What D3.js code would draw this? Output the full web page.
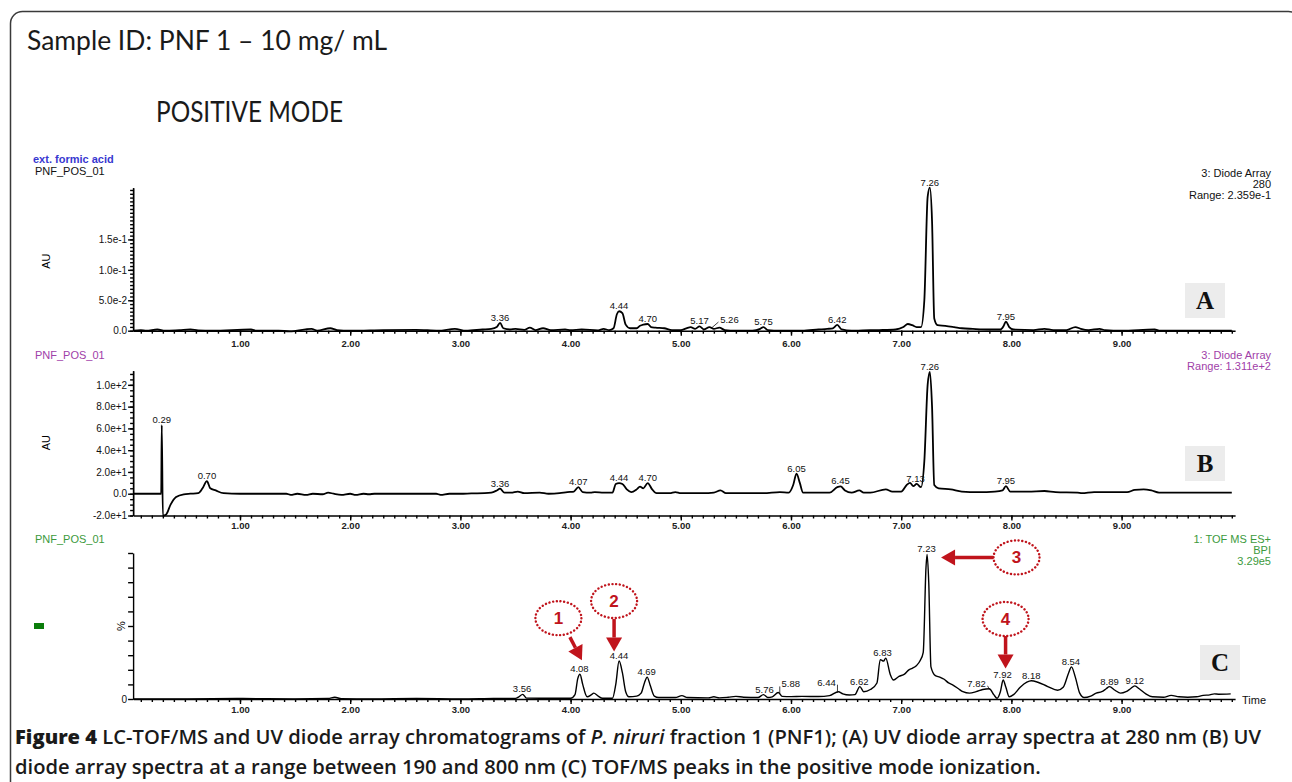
<!DOCTYPE html>
<html>
<head>
<meta charset="utf-8">
<title>PNF1 LC-TOF/MS chromatograms - D3.js</title>
<script src="https://d3js.org/d3.v7.min.js"></script>
<style>
  body { margin: 0; background: #fff; }
  svg { display: block; }
  .axis path, .axis line { stroke: #000; stroke-width: 1.4; fill: none; }
  .axis text { font-family: "Liberation Sans", Arial, sans-serif; font-size: 10px; fill: #111; }
  .xlab text { font-weight: bold; font-size: 9.5px; fill: #222; }
  .small { font-family: "Liberation Sans", Arial, sans-serif; font-size: 11px; }
  .peak { font-family: "Liberation Sans", Arial, sans-serif; font-size: 9.5px; fill: #111; text-anchor: middle; }
  .trace { fill: none; stroke: #000; stroke-linejoin: round; }
</style>
</head>
<body>
<div id="chart"></div>
<script>
// retention time (min), response
const traceA = [
  [0.03,0],[0.10,0.001],[0.15,0],[0.25,0.002],[0.32,0],[0.45,0.001],[0.55,0.002],[0.62,0.0005],[0.75,0],
  [1.10,0.002],[1.15,0],[1.35,0],[1.45,-0.001],[1.65,0.003],[1.70,0],[1.82,0.004],[1.88,0.001],[2.0,0],
  [2.3,0.001],[2.6,0.0015],[2.8,0],[2.95,0.003],[3.05,0],[3.2,0.002],[3.28,0.003],[3.33,0.006],[3.36,0.013],
  [3.39,0.004],[3.45,0.002],[3.50,0.003],[3.58,0.0015],[3.63,0.005],[3.68,0.001],[3.75,0.004],[3.82,0.001],
  [3.95,0.002],[4.0,0.001],[4.1,0.002],[4.25,0.0005],[4.30,0.003],[4.35,0.001],[4.39,0.004],[4.42,0.027],
  [4.44,0.032],[4.47,0.029],[4.50,0.010],[4.54,0.004],[4.60,0.004],[4.63,0.008],[4.66,0.010],[4.70,0.011],
  [4.73,0.006],[4.77,0.005],[4.85,0.004],[4.92,0.001],[5.0,0.001],[5.05,0.004],[5.09,0.006],[5.13,0.003],
  [5.17,0.007],[5.21,0.002],[5.26,0.006],[5.30,0.003],[5.35,0.005],[5.40,0.001],[5.5,0],[5.65,0],[5.72,0.003],
  [5.75,0.006],[5.79,0.001],[5.9,0],[6.1,0],[6.25,0.002],[6.33,0.003],[6.38,0.004],[6.42,0.0095],[6.46,0.002],
  [6.55,0],[6.65,0.0005],[6.8,0.001],[6.95,0.002],[7.02,0.006],[7.06,0.011],[7.10,0.009],[7.14,0.006],
  [7.18,0.006],[7.21,0.05],[7.24,0.22],[7.26,0.235],[7.28,0.18],[7.30,0.02],[7.33,0.009],[7.40,0.008],
  [7.48,0.006],[7.55,0.004],[7.65,0.003],[7.80,0.002],[7.90,0.002],[7.93,0.008],[7.95,0.015],[7.98,0.006],
  [8.02,0.002],[8.2,0.001],[8.3,0.003],[8.38,0.001],[8.5,0.001],[8.58,0.006],[8.63,0.003],[8.7,0.001],
  [8.8,0.003],[8.85,0.001],[9.0,0],[9.3,0.002],[9.35,0],[10.0,0]
];
const traceB = [
  [0.03,0],[0.285,0],[0.29,63],[0.30,-20],[0.33,-19],[0.37,-10],[0.42,-3],[0.49,-0.5],[0.55,0],[0.62,0.5],
  [0.66,5],[0.70,11.5],[0.73,5],[0.78,3],[0.85,0.5],[1.0,0],[1.42,0],[1.46,-1],[1.52,0],[1.6,-1],[1.66,0],
  [1.75,-0.5],[1.80,1],[1.85,0],[1.92,-1],[2.0,0],[2.05,-1],[2.12,0],[2.17,-0.5],[2.22,0],[2.78,0],[2.82,-1],
  [2.9,0],[3.0,0],[3.1,0.3],[3.22,0.5],[3.28,1],[3.33,3],[3.36,4.6],[3.40,1],[3.46,1],[3.52,2],[3.58,0.5],
  [3.72,1],[3.8,0],[3.9,0.5],[3.97,1.5],[4.03,2],[4.07,6.1],[4.11,1.5],[4.18,1],[4.22,1.5],[4.3,1],[4.38,1],
  [4.41,9],[4.44,9.8],[4.47,9],[4.51,4],[4.55,1.5],[4.60,4],[4.63,6.5],[4.66,5],[4.70,9.8],[4.74,4],[4.78,0.5],
  [4.9,0.5],[4.95,1.5],[5.0,0.5],[5.2,0.5],[5.3,1],[5.36,3],[5.41,0.5],[5.75,0.5],[5.9,1.5],[5.98,1],[6.02,8],
  [6.05,18.5],[6.08,10],[6.11,1],[6.35,1],[6.42,6],[6.45,6.7],[6.49,3],[6.55,1],[6.62,3],[6.66,1],[6.72,1],
  [6.86,4],[6.92,2],[7.0,2],[7.05,8],[7.08,10],[7.11,7],[7.14,9],[7.18,6],[7.21,30],[7.24,100],[7.26,112],
  [7.28,80],[7.30,8],[7.34,5],[7.45,4],[7.55,2],[7.7,1.5],[7.85,2],[7.92,3],[7.95,7],[7.99,2],[8.15,2],
  [8.3,2.5],[8.4,1.5],[8.6,1],[8.64,0.5],[8.75,1.5],[9.05,1.5],[9.12,3.5],[9.2,4],[9.27,3],[9.34,1],[10.0,1]
];
const traceC = [
  [0.03,0],[0.5,0],[1.0,0.3],[1.5,0],[1.80,0.3],[1.86,1.2],[1.92,0.2],[2.2,0],[2.6,0.3],[3.0,0],[3.3,0.3],
  [3.5,0.4],[3.53,1.5],[3.565,3.2],[3.60,0.6],[3.8,0.5],[4.0,0.5],[4.04,3],[4.065,14],[4.085,17],[4.11,10],
  [4.15,1.5],[4.19,3],[4.21,4],[4.25,2],[4.29,0.5],[4.38,0.5],[4.41,10],[4.44,26],[4.47,18],[4.50,5],
  [4.53,1.5],[4.6,2],[4.64,4],[4.67,11],[4.695,15],[4.72,10],[4.76,2],[4.80,1],[4.95,1],[5.01,2.3],[5.06,1],
  [5.25,0.8],[5.3,1.5],[5.35,0.8],[5.43,1.2],[5.5,1.8],[5.57,1.2],[5.7,1],[5.75,3],[5.79,1],[5.83,1.5],
  [5.885,4.5],[5.92,1.8],[6.0,1.6],[6.1,1.8],[6.25,1.7],[6.35,2.3],[6.43,5],[6.47,3.5],[6.53,2.7],[6.58,3],
  [6.625,8.5],[6.66,5],[6.72,6.5],[6.78,11],[6.81,27],[6.84,26],[6.86,28],[6.90,17],[6.93,13],[6.98,15.5],
  [7.03,17],[7.07,20],[7.10,21],[7.14,23],[7.17,26],[7.20,32],[7.225,90],[7.235,99],[7.25,80],[7.27,22],
  [7.31,16],[7.35,15],[7.39,13.5],[7.43,11],[7.47,9.5],[7.52,7],[7.56,5],[7.62,4],[7.68,5],[7.74,6.5],
  [7.80,7],[7.84,3],[7.87,0.5],[7.90,5],[7.925,13],[7.95,8],[7.98,1.5],[8.02,3],[8.08,8],[8.14,11.5],
  [8.18,12.5],[8.24,11.5],[8.33,8.5],[8.42,6],[8.47,8],[8.52,18],[8.545,22],[8.58,15],[8.62,4],[8.66,1],
  [8.72,2],[8.77,4],[8.82,5],[8.86,7],[8.89,8.5],[8.94,6],[8.99,4],[9.04,5],[9.08,7],[9.12,9],[9.16,7],
  [9.22,3.5],[9.28,1.5],[9.38,1.2],[9.45,2.5],[9.52,1.5],[9.6,1.2],[9.68,1.5],[9.74,2.5],[9.8,2.8],
  [9.84,3.5],[9.88,3.3],[9.99,3.5]
];

// labelled retention times
const peaksA = [3.36, 4.44, 4.70, 5.17, 5.26, 5.75, 6.42, 7.26, 7.95];
const peaksB = [0.29, 0.70, 3.36, 4.07, 4.44, 4.70, 6.05, 6.45, 7.13, 7.26, 7.95];
const peaksC = [3.56, 4.08, 4.44, 4.69, 5.76, 5.88, 6.44, 6.62, 6.83, 7.23, 7.82, 7.92, 8.18, 8.54, 8.89, 9.12];

// marked compounds in the TOF MS trace
const compounds = ["1", "2", "3", "4"];
const compoundRT = [4.08, 4.44, 7.23, 7.92];

// axis ticks
const timeTicks = [1, 2, 3, 4, 5, 6, 7, 8, 9];
const ticksA = [0, 0.05, 0.1, 0.15];
const ticksB = [-20, 0, 20, 40, 60, 80, 100];
const ticksC = [0, 10, 20, 30, 40, 50, 60, 70, 80, 90, 100];

const red = "#c0141c";
const W = 1292, H = 782;

const svg = d3.select("#chart").append("svg").attr("width", W).attr("height", H);

// outer frame
svg.append("rect").attr("x", 10.5).attr("y", 11.5).attr("width", 1290).attr("height", 800)
  .attr("rx", 12).attr("fill", "none").attr("stroke", "#3a3a3a").attr("stroke-width", 1.5);

svg.append("text").attr("x", 27).attr("y", 50).attr("font-family", "Lato, 'Open Sans', sans-serif")
  .attr("font-size", 26).attr("fill", "#1a1a1a")
  .attr("textLength", 360).attr("lengthAdjust", "spacingAndGlyphs")
  .text("Sample ID: PNF 1 \u2013 10 mg/ mL");
svg.append("text").attr("x", 156).attr("y", 121.5).attr("font-family", "Lato, 'Open Sans', sans-serif")
  .attr("font-size", 28).attr("fill", "#1a1a1a")
  .attr("textLength", 187).attr("lengthAdjust", "spacingAndGlyphs")
  .text("POSITIVE MODE");

const x = d3.scaleLinear().domain([0.03, 10.03]).range([133.1, 1235.1]);
const minorTime = d3.range(1, 101).map(i => i / 10);

const sci = v => v === 0 ? "0.0" : d3.format(".1e")(v).replace("\u2212", "-");

const panels = [
  {
    id: "A", trace: traceA, peaks: peaksA,
    y: d3.scaleLinear().domain([0, 0.235]).range([330.7, 187.7]),
    ticks: ticksA, minor: d3.range(0, 38).map(i => i * 0.00625), fmt: sci,
    pad: 5, width: 1.8,
    leftTop: ["ext. formic acid", "#3838d0"], name: "#111",
    right: ["3: Diode Array", "280", "Range: 2.359e-1"], rightColor: "#111", rightY: 173,
    au: true, box: [1185, 283, "A"]
  },
  {
    id: "B", trace: traceB, peaks: peaksB,
    y: d3.scaleLinear().domain([-20, 113]).range([515.5, 370.7]),
    ticks: ticksB, minor: d3.range(-20, 114, 5), fmt: sci,
    pad: 2, width: 1.8,
    name: "#a040a8",
    right: ["3: Diode Array", "Range: 1.311e+2"], rightColor: "#a040a8", rightY: 355,
    au: true, box: [1185, 446, "B"]
  },
  {
    id: "C", trace: traceC, peaks: peaksC,
    y: d3.scaleLinear().domain([0, 100]).range([699, 553]),
    ticks: ticksC, minor: [], fmt: v => v === 0 ? "0" : "",
    pad: 2.5, width: 1.4,
    name: "#3c9a3c",
    right: ["1: TOF MS ES+", "BPI", "3.29e5"], rightColor: "#3c9a3c", rightY: 539,
    au: false, box: [1200, 645, "C"]
  }
];

// labels that the software moved off their peak, with a leader line
const labelNudge = { "A5.26": [20, -2], "C5.88": [13, -3], "C6.44": [-13, -4], "C7.82": [-15, 0] };

function peakValue(trace, t) {
  return d3.max(trace.filter(d => Math.abs(d[0] - t) <= 0.0351), d => d[1]);
}

panels.forEach(p => {
  const g = svg.append("g");
  const y = p.y;
  const axisY = y.range()[0];

  // time axis
  g.append("g").attr("class", "axis").attr("transform", `translate(0,${axisY})`)
    .call(d3.axisBottom(x).tickValues(minorTime).tickSize(3).tickSizeOuter(0).tickFormat(""));
  g.append("g").attr("class", "axis xlab").attr("transform", `translate(0,${axisY})`)
    .call(d3.axisBottom(x).tickValues(timeTicks).tickSize(5).tickSizeOuter(0).tickPadding(p.pad)
      .tickFormat(d3.format(".2f")))
    .call(a => a.select(".domain").remove());

  // response axis
  if (p.minor.length) {
    g.append("g").attr("class", "axis").attr("transform", `translate(${x.range()[0]},0)`)
      .call(d3.axisLeft(y).tickValues(p.minor).tickSize(3).tickSizeOuter(0).tickFormat(""));
  }
  g.append("g").attr("class", "axis").attr("transform", `translate(${x.range()[0]},0)`)
    .call(d3.axisLeft(y).tickValues(p.ticks).tickSize(5).tickSizeOuter(0).tickPadding(1).tickFormat(p.fmt));

  // trace
  g.append("path").datum(p.trace).attr("class", "trace")
    .attr("stroke-width", p.width)
    .attr("d", d3.line().x(d => x(d[0])).y(d => y(d[1])).curve(d3.curveMonotoneX));

  // peak labels
  p.peaks.forEach(t => {
    const px = x(t), py = y(peakValue(p.trace, t));
    const n = labelNudge[p.id + t.toFixed(2)];
    const dx = n ? n[0] : 0, dy = n ? n[1] : 0;
    g.append("text").attr("class", "peak").attr("x", px + dx).attr("y", py - 2 + dy).text(t.toFixed(2));
    if (n) {
      const lx = px + dx + (dx > 0 ? -11 : 11);
      g.append("line").attr("x1", lx).attr("y1", py - 3 + dy).attr("x2", px + (dx > 0 ? 2 : -2)).attr("y2", py + 1)
        .attr("stroke", "#111").attr("stroke-width", 0.8);
    }
  });

  // header texts
  const top = p.id === "A" ? 171 : p.rightY;
  if (p.leftTop) {
    g.append("text").attr("class", "small").attr("x", 33).attr("y", 163).attr("fill", p.leftTop[1])
      .attr("font-weight", "bold").text(p.leftTop[0]);
  }
  g.append("text").attr("class", "small").attr("x", 35).attr("y", top + 4).attr("fill", p.name)
    .text("PNF_POS_01");
  p.right.forEach((s, i) => {
    g.append("text").attr("class", "small").attr("x", 1271).attr("y", p.rightY + 4 + i * 11)
      .attr("text-anchor", "end").attr("fill", p.rightColor).text(s);
  });

  if (p.au) {
    const cy = (y.range()[0] + y.range()[1]) / 2 + (p.id === "A" ? 2 : -0.5);
    g.append("text").attr("class", "small").attr("font-size", 10)
      .attr("transform", `translate(50,${cy}) rotate(-90)`).attr("text-anchor", "middle").text("AU");
  }

  // panel letter
  g.append("rect").attr("x", p.box[0]).attr("y", p.box[1]).attr("width", 40).attr("height", 35).attr("fill", "#ececec");
  g.append("text").attr("x", p.box[0] + 20).attr("y", p.box[1] + 26).attr("text-anchor", "middle")
    .attr("font-family", "'Liberation Serif', 'DejaVu Serif', serif").attr("font-weight", "bold")
    .attr("font-size", 25).attr("fill", "#111").text(p.box[2]);
});

// extras of the TOF panel
const yC = panels[2].y;
svg.append("text").attr("class", "small").attr("font-size", 10)
  .attr("transform", `translate(125,${yC(50)}) rotate(-90)`).attr("text-anchor", "middle").text("%");
svg.append("rect").attr("x", 34).attr("y", 623).attr("width", 10).attr("height", 6).attr("fill", "#0b7d0b");
svg.append("text").attr("class", "small").attr("font-size", 10).attr("x", 1242).attr("y", 704).attr("fill", "#111").text("Time");

// compound callouts, offsets from the peak apex: ellipse centre, arrow start, arrow tip
const calloutLayout = [
  { e: [-21, -56], a: [-9.5, -37], b: [2.5, -14] },
  { e: [-5, -60], a: [-5, -42], b: [-5, -9.5] },
  { e: [90, 3], a: [67, 3], b: [14.5, 3] },
  { e: [3, -61], a: [3, -44], b: [3, -11.5] }
];

function arrow(g, x1, y1, x2, y2) {
  const a = Math.atan2(y2 - y1, x2 - x1), L = 14, hw = 8;
  const bx = x2 - L * Math.cos(a), by = y2 - L * Math.sin(a);
  g.append("line").attr("x1", x1).attr("y1", y1).attr("x2", bx).attr("y2", by)
    .attr("stroke", red).attr("stroke-width", 3.5);
  g.append("path").attr("fill", red)
    .attr("d", `M${x2},${y2}L${bx + hw * Math.sin(a)},${by - hw * Math.cos(a)}L${bx - hw * Math.sin(a)},${by + hw * Math.cos(a)}Z`);
}

compounds.forEach((c, i) => {
  const g = svg.append("g");
  const t = compoundRT[i];
  const px = x(t), py = yC(peakValue(traceC, t));
  const L = calloutLayout[i];
  g.append("ellipse").attr("cx", px + L.e[0]).attr("cy", py + L.e[1]).attr("rx", 23).attr("ry", 17)
    .attr("fill", "none").attr("stroke", red).attr("stroke-width", 2.4)
    .attr("stroke-dasharray", "0.1 3.6").attr("stroke-linecap", "round");
  g.append("text").attr("x", px + L.e[0]).attr("y", py + L.e[1] + 6).attr("text-anchor", "middle")
    .attr("font-family", "'Liberation Sans', Arial, sans-serif").attr("font-weight", "bold")
    .attr("font-size", 17).attr("fill", red).text(c);
  arrow(g, px + L.a[0], py + L.a[1], px + L.b[0], py + L.b[1]);
});

// caption
const cap = svg.append("g").attr("font-family", "'Open Sans', 'Noto Sans', sans-serif")
  .attr("font-size", 19).attr("font-weight", 600).attr("fill", "#1a1a1a");
const l1 = cap.append("text").attr("x", 0).attr("y", 744);
l1.append("tspan").attr("font-weight", 800).text("Figure 4");
l1.append("tspan").text(" LC-TOF/MS and UV diode array chromatograms of ");
l1.append("tspan").attr("font-style", "italic").text("P. niruri");
l1.append("tspan").text(" fraction 1 (PNF1); (A) UV diode array spectra at 280 nm (B) UV");
cap.append("text").attr("x", 0).attr("y", 774)
  .text("diode array spectra at a range between 190 and 800 nm (C) TOF/MS peaks in the positive mode ionization.");
const sx = 1247 / l1.node().getComputedTextLength();
cap.attr("transform", `translate(15,0) scale(${sx},1)`);
</script>
</body>
</html>
